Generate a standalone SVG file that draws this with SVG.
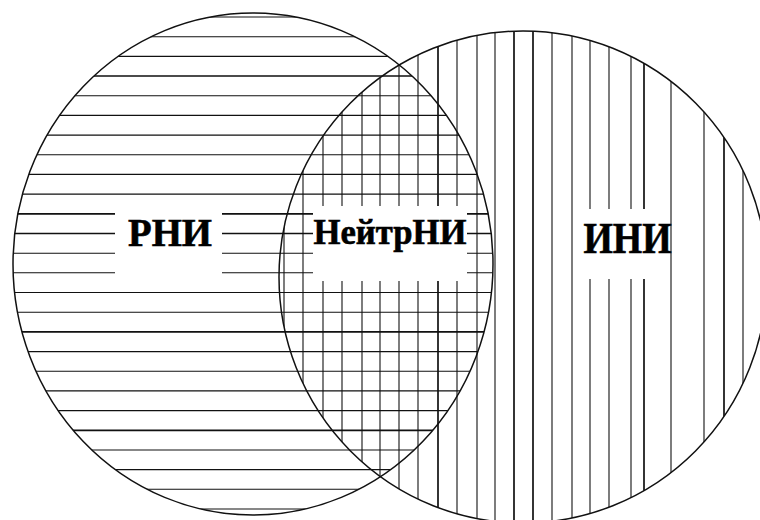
<svg xmlns="http://www.w3.org/2000/svg" width="760" height="520" viewBox="0 0 760 520">
<style>
.bg{fill:#ffffff}
.hatch{fill:none;stroke:#111;stroke-width:1.1}
.thick{fill:none;stroke:#111;stroke-width:1.7}
.outline{fill:none;stroke:#111;stroke-width:1.5}
.lbl{font-family:"Liberation Serif","Times New Roman",serif;font-weight:bold;fill:#000;stroke:#000;stroke-width:0.6}
</style>
<defs>
<clipPath id="clipL"><ellipse cx="253" cy="264" rx="240" ry="251"/></clipPath>
<clipPath id="clipR"><ellipse cx="523" cy="277" rx="244" ry="246"/></clipPath>
</defs>
<rect class="bg" x="0" y="0" width="760" height="520"/>
<g id="hatch-left" clip-path="url(#clipL)">
<path class="hatch" d="M0 17H760M0 36.7H760M0 56.4H760M0 95.7H760M0 115.4H760M0 135.1H760M0 154.8H760M0 174.4H760M0 194.1H760M0 253.2H115M222 253.2H313M467 253.2H760M0 272.8H115M222 272.8H313M467 272.8H760M0 292.5H760M0 312.2H760M0 351.6H760M0 371.2H760M0 390.9H760M0 410.6H760M0 450H760M0 469.6H760M0 489.3H760M0 509H760"/>
<path class="thick" d="M0 76H760M0 213.8H115M222 213.8H313M467 213.8H760M0 233.5H115M222 233.5H313M467 233.5H760M0 331.9H760M0 430.3H760"/>
</g>
<g id="hatch-right" clip-path="url(#clipR)">
<path class="hatch" d="M284 0V520M303 0V520M323 0V206M323 281V520M342 0V206M342 281V520M362 0V206M362 281V520M380 0V206M380 281V520M399 0V206M399 281V520M418 0V206M418 281V520M457 0V206M457 281V520M477 0V520M495 0V520M552 0V520M572 0V520M590 0V209M590 279V520M609 0V209M609 279V520M631 0V209M631 279V520M671 0V520M704 0V520M743 0V520"/>
<path class="thick" d="M438 0V206M438 281V520M514 0V520M533 0V520M644 0V209M644 279V520M724 0V520"/>
</g>
<g id="set-RNI">
<ellipse class="outline" cx="253" cy="264" rx="240" ry="251"/>
<text class="lbl" x="128" y="245.5" font-size="40" textLength="84" lengthAdjust="spacingAndGlyphs">РНИ</text>
</g>
<g id="set-INI">
<ellipse class="outline" cx="523" cy="277" rx="244" ry="246"/>
<text class="lbl" x="583.5" y="252.5" font-size="44" textLength="88" lengthAdjust="spacingAndGlyphs">ИНИ</text>
</g>
<g id="set-NeitrNI">
<text class="lbl" x="313.5" y="243.5" font-size="35" textLength="153" lengthAdjust="spacingAndGlyphs">НейтрНИ</text>
</g>
</svg>
